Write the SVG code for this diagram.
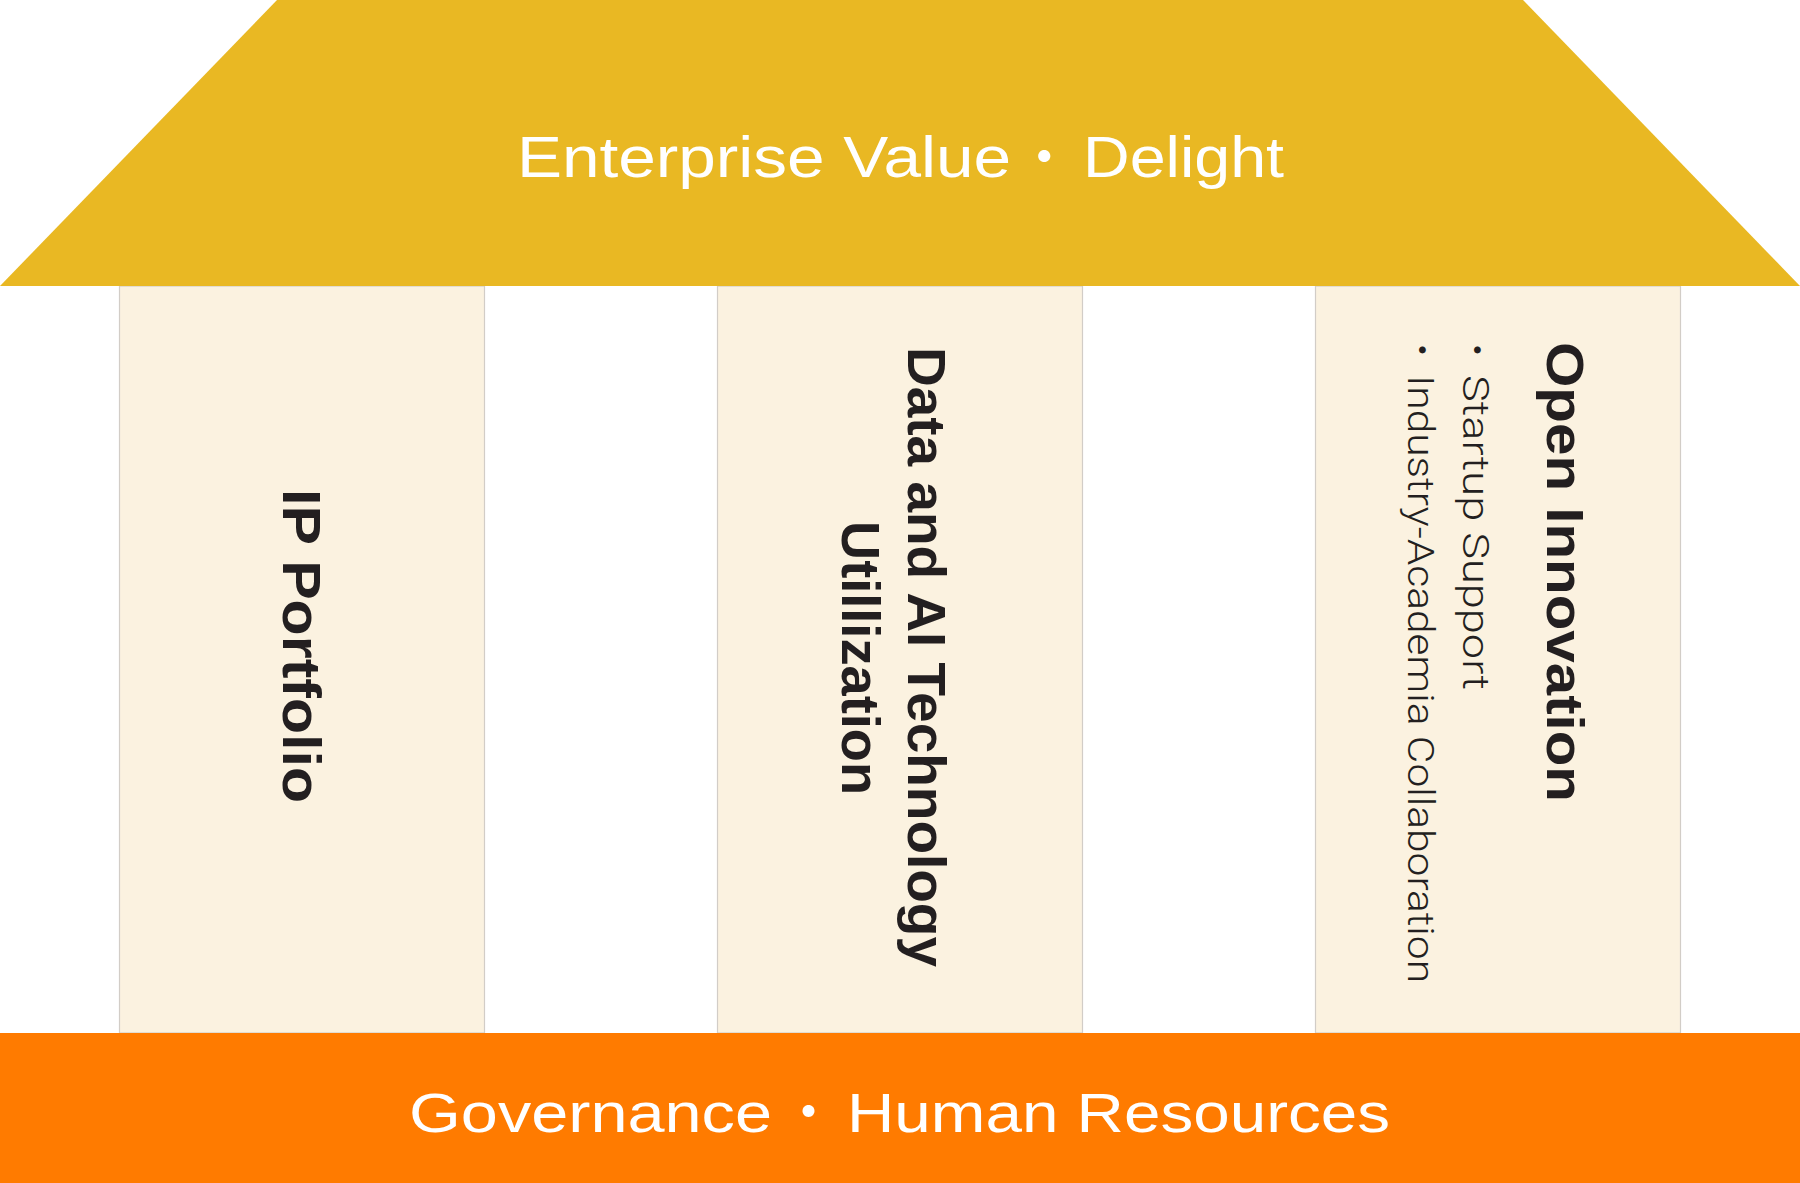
<svg xmlns="http://www.w3.org/2000/svg" width="1800" height="1183" viewBox="0 0 1800 1183">
  <style>
    .roof { fill: #E9B823; }
    .base { fill: #FF7B00; }
    .col { fill: #FBF2E0; stroke: #D2CDC7; stroke-width: 1.2; }
    .band { font-family: "Liberation Sans", "Noto Sans CJK JP", sans-serif; fill: #FFFFFF; }
    .title { font-family: "Liberation Sans", "Noto Sans CJK JP", sans-serif; font-weight: bold; fill: #231F20; }
    .item { font-family: Roboto, "Liberation Sans", "Noto Sans CJK JP", sans-serif; font-weight: 300; fill: #231F20; font-size: 36px; }
  </style>
  <rect x="0" y="0" width="1800" height="1183" fill="#FFFFFF"/>

  <g id="column-ip">
    <rect class="col" x="119.5" y="286" width="365" height="747"/>
    <text class="title" font-size="53" transform="translate(283,0) rotate(90)" x="489" y="0" textLength="314" lengthAdjust="spacingAndGlyphs">IP Portfolio</text>
  </g>

  <g id="column-data">
    <rect class="col" x="717.5" y="286" width="365" height="747"/>
    <text class="title" font-size="54" transform="translate(908,0) rotate(90)" x="347" y="0" textLength="620" lengthAdjust="spacingAndGlyphs">Data and AI Technology</text>
    <text class="title" font-size="54" transform="translate(842,0) rotate(90)" x="521" y="0" textLength="274" lengthAdjust="spacingAndGlyphs">Utillization</text>
  </g>

  <g id="column-open">
    <rect class="col" x="1315.5" y="286" width="365" height="747"/>
    <text class="title" font-size="52" transform="translate(1547,0) rotate(90)" x="342" y="0" textLength="460" lengthAdjust="spacingAndGlyphs">Open Innovation</text>
    <text class="item" transform="translate(1463,0) rotate(90)" y="0"><tspan x="332">・</tspan><tspan x="375" textLength="315" lengthAdjust="spacingAndGlyphs">Startup Support</tspan></text>
    <text class="item" transform="translate(1408,0) rotate(90)" y="0"><tspan x="332">・</tspan><tspan x="375" textLength="608" lengthAdjust="spacingAndGlyphs">Industry-Academia Collaboration</tspan></text>
  </g>

  <g id="roof">
    <polygon class="roof" points="277,0 1523,0 1800,286 0,286"/>
    <text class="band" font-size="57" y="177"><tspan x="517" textLength="494" lengthAdjust="spacingAndGlyphs">Enterprise Value</tspan><tspan x="1000"> ・ </tspan><tspan x="1083" textLength="201" lengthAdjust="spacingAndGlyphs">Delight</tspan></text>
  </g>

  <g id="base">
    <rect class="base" x="0" y="1033" width="1800" height="150"/>
    <text class="band" font-size="56" y="1132"><tspan x="409" textLength="363" lengthAdjust="spacingAndGlyphs">Governance</tspan><tspan x="765"> ・ </tspan><tspan x="847" textLength="543" lengthAdjust="spacingAndGlyphs">Human Resources</tspan></text>
  </g>
</svg>
